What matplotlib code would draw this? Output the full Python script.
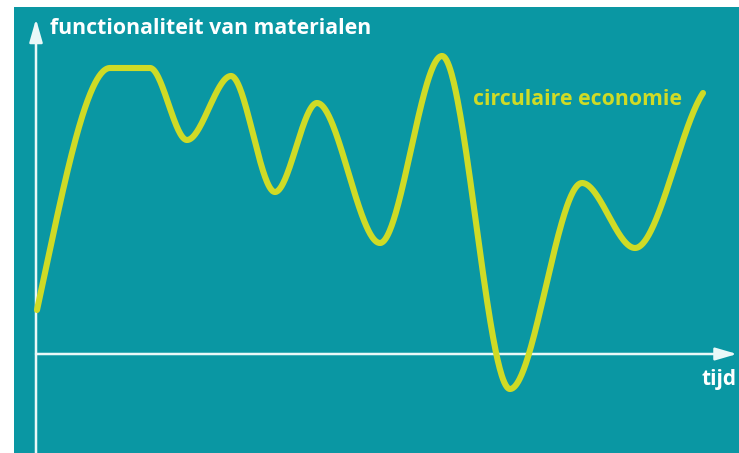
"""Schets: functionaliteit van materialen in een circulaire economie."""

import numpy as np
import matplotlib.pyplot as plt

# knooppunten van de curve (tijd, functionaliteit) in willekeurige eenheden
tijd = [1, 74, 114, 151, 195, 239, 281, 344, 406, 474, 546, 599, 667]
functionaliteit = [44, 286, 286, 214, 278, 162, 251, 111, 298, -35, 171, 106, 261]
helling_begin = 4.6
helling_eind = 1.5

titel_y = "functionaliteit van materialen"
titel_x = "tijd"
label_curve = "circulaire economie"

TEAL = '#0a97a3'
GEEL = '#cfdb26'
AS_KLEUR = '#eaf8f8'


def hermite(x, y, xs, m_begin, m_eind):
    """Kubische Hermite-curve door de knooppunten (Fritsch-Carlson hellingen)."""
    x = np.asarray(x, float)
    y = np.asarray(y, float)
    h = np.diff(x)
    d = np.diff(y) / h
    m = np.zeros_like(y)
    for k in range(1, len(x) - 1):
        if d[k - 1] * d[k] > 0:
            w1 = 2 * h[k] + h[k - 1]
            w2 = h[k] + 2 * h[k - 1]
            m[k] = (w1 + w2) / (w1 / d[k - 1] + w2 / d[k])
    m[0] = m_begin
    m[-1] = m_eind

    idx = np.clip(np.searchsorted(x, xs) - 1, 0, len(x) - 2)
    t = (xs - x[idx]) / h[idx]
    h00 = 2 * t**3 - 3 * t**2 + 1
    h10 = t**3 - 2 * t**2 + t
    h01 = -2 * t**3 + 3 * t**2
    h11 = t**3 - t**2
    return (h00 * y[idx] + h10 * h[idx] * m[idx]
            + h01 * y[idx + 1] + h11 * h[idx] * m[idx + 1])


fig = plt.figure(figsize=(7.39, 4.53), dpi=100)
ax = fig.add_axes([14 / 739, 0, 725 / 739, 446 / 453])
ax.set_facecolor(TEAL)
for s in ax.spines.values():
    s.set_visible(False)
ax.set_xticks([])
ax.set_yticks([])
ax.set_xlim(-22, 703)
ax.set_ylim(-99, 347)

# assen met pijlen
pijl = dict(arrowstyle='-|>,head_length=14,head_width=4', mutation_scale=1,
            color=AS_KLEUR, lw=1.8, shrinkA=0, shrinkB=0)
ax.annotate('', xy=(0, 335), xytext=(0, -99), arrowprops=pijl)
ax.annotate('', xy=(701, 0), xytext=(0, 0),
            arrowprops=dict(pijl, arrowstyle='-|>,head_length=13,head_width=3.8'))

xs = np.linspace(tijd[0], tijd[-1], 1000)
ax.plot(xs, hermite(tijd, functionaliteit, xs, helling_begin, helling_eind),
        color=GEEL, lw=4.4, solid_capstyle='round', zorder=3)

tekst = dict(fontsize=15.3, fontweight='bold', family='Open Sans',
             va='baseline', ha='left')
ax.text(14, 320, titel_y, color='white', **tekst)
ax.text(437, 249, label_curve, color=GEEL, **tekst)
ax.text(666, -31, titel_x, color='white', **dict(tekst, fontsize=15))

fig.savefig('out.png', dpi=100)
